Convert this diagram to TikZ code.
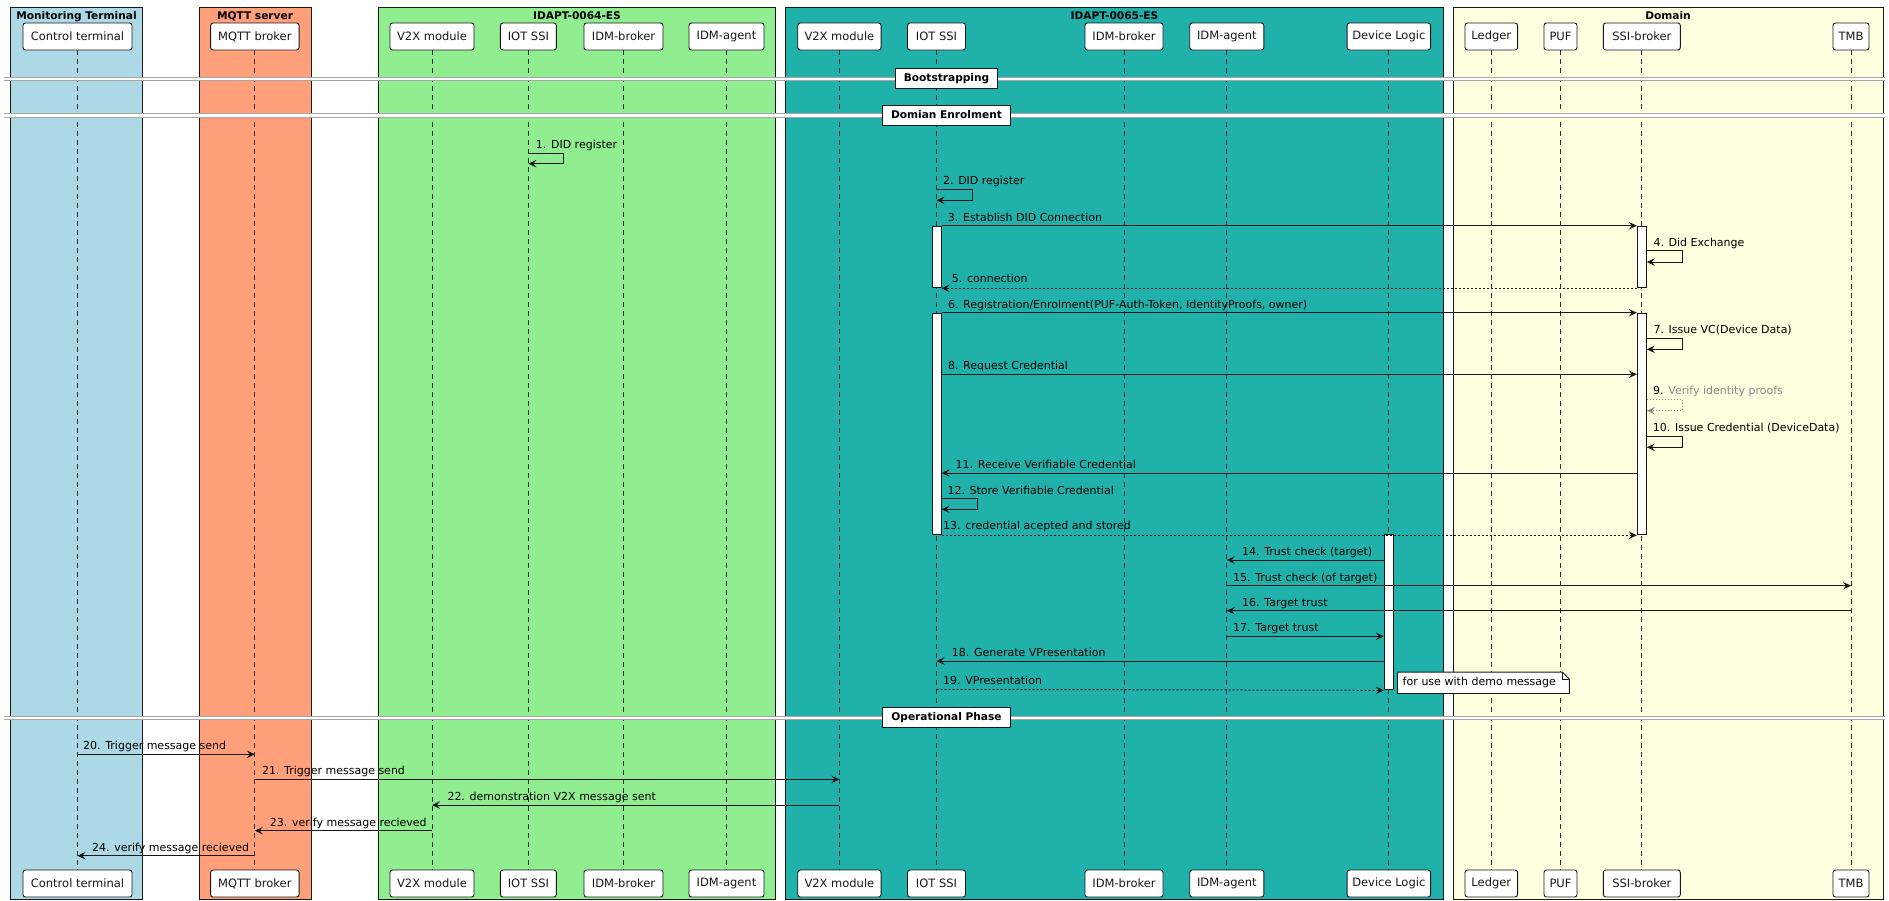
\documentclass[tikz,border=0pt]{standalone}
\usepackage{fontspec}
\setmainfont{DejaVu Sans}
\usetikzlibrary{arrows.meta}

\definecolor{mtblue}{HTML}{ADD8E6}
\definecolor{mqsalmon}{HTML}{FFA07A}
\definecolor{esgreen}{HTML}{90EE90}
\definecolor{esteal}{HTML}{20B2AA}
\definecolor{domyellow}{HTML}{FFFFE0}
\definecolor{ink}{HTML}{181818}
\definecolor{lifegray}{HTML}{2E2E2E}
\definecolor{divgray}{HTML}{A6A6A6}
\definecolor{fadedgray}{HTML}{8C8C8C}

\newcommand{\msgfont}{\fontsize{11pt}{13pt}\selectfont}
\newcommand{\partfont}{\fontsize{11.5pt}{13pt}\selectfont}
\newcommand{\titlefont}{\fontsize{10.6pt}{12pt}\selectfont\bfseries}

\tikzset{
  grpbox/.style={draw=ink, line width=1pt},
  grptitle/.style={anchor=base, font=\titlefont, text=black, inner sep=0},
  part/.style={draw=ink, fill=white, line width=0.9pt, rounded corners=2.5pt,
    minimum height=27pt, inner sep=0, font=\partfont, text=ink},
  life/.style={draw=lifegray, line width=0.9pt, dash pattern=on 5pt off 4pt},
  msg/.style={draw=ink, line width=1pt, -{Stealth[length=8pt,width=7.5pt,inset=3pt]}},
  retmsg/.style={msg, dash pattern=on 2pt off 2pt},
  faded/.style={draw=fadedgray, line width=1pt, dash pattern=on 1.5pt off 1.5pt,
    -{Stealth[length=8pt,width=7.5pt,inset=3pt]}},
  act/.style={draw=ink, fill=white, line width=1pt, minimum width=9pt, inner sep=0, anchor=north},
  lbl/.style={anchor=base west, font=\msgfont, text=black, inner sep=0},
  divline/.style={draw=divgray, line width=1pt},
  divlbl/.style={draw=ink, fill=white, line width=1pt, font=\titlefont,
    minimum height=20pt, inner xsep=8.5pt, inner ysep=0},
  notebox/.style={anchor=west, font=\msgfont, text width=161.5pt, align=left,
    inner xsep=5pt, minimum height=21pt, inner ysep=0},
}

\begin{document}
\begin{tikzpicture}[x=1pt,y=-1pt]
\useasboundingbox (0,0) rectangle (1889,900);
\fill[white] (0,0) rectangle (1889,900);

% ---- grouping boxes ----
\fill[mtblue]    (10.2,7.3) rectangle (142.9,899.5);
\draw[grpbox]    (10.2,7.3) rectangle (142.9,899.5);
\fill[mqsalmon]  (199,7.3) rectangle (311,899.5);
\draw[grpbox]    (199,7.3) rectangle (311,899.5);
\fill[esgreen]   (378.6,7.3) rectangle (775.6,899.5);
\draw[grpbox]    (378.6,7.3) rectangle (775.6,899.5);
\fill[esteal]    (785.7,7.3) rectangle (1443.4,899.5);
\draw[grpbox]    (785.7,7.3) rectangle (1443.4,899.5);
\fill[domyellow] (1453.3,7.3) rectangle (1883,899.5);
\draw[grpbox]    (1453.3,7.3) rectangle (1883,899.5);

\node[grptitle] (gMT)  at (76.5,19)   {Monitoring Terminal};
\node[grptitle] (gMQ)  at (255,19)    {MQTT server};
\node[grptitle] (gE64) at (577,19)    {IDAPT-0064-ES};
\node[grptitle] (gE65) at (1114.5,19) {IDAPT-0065-ES};
\node[grptitle] (gDom) at (1668,19)   {Domain};

% ---- participants (head and foot) ----
\foreach \n/\x/\w/\t in {
  CT/77.5/109/Control terminal,
  MQ/254.8/88.5/MQTT broker,
  VA/432/84/V2X module,
  SA/528.4/56/IOT SSI,
  BA/623.5/79/IDM-broker,
  AA/726.5/75/IDM-agent,
  VB/839.4/83.3/V2X module,
  SB/936.5/58/IOT SSI,
  BB/1124/78/IDM-broker,
  AB/1226.8/74.2/IDM-agent,
  DL/1388.8/83.5/Device Logic,
  LE/1491.3/52.6/Ledger,
  PU/1560.5/33/PUF,
  SK/1641.8/77/SSI-broker,
  TM/1851/36/TMB}{
  \node[part, minimum width=\w pt] (\n t) at (\x,36.5) {\t};
  \node[part, minimum width=\w pt] (\n b) at (\x,883.5) {\t};
}
\foreach \n in {CT,MQ,VA,SA,BA,AA,VB,SB,BB,AB,DL,LE,PU,SK,TM}{
  \draw[life] (\n t.south) -- (\n b.north);
}

% ---- dividers ----
\foreach \y/\t/\n in {79/Bootstrapping/dvA, 115.5/Domian Enrolment/dvB, 718.3/Operational Phase/dvC}{
  \fill[white] (4,\y-1.6) rectangle (1885,\y+1.6);
  \draw[divline] (4,\y-1.6) -- (1885,\y-1.6);
  \draw[divline] (4,\y+1.6) -- (1885,\y+1.6);
  \node[divlbl] (\n) at (946.5,\y-0.5) {\t};
}

% ---- activation bars ----
\node[act, minimum height=61.6pt]  (aSB1) at (936.5,225.7) {};
\node[act, minimum height=61.6pt]  (aSK1) at (1641.8,225.7) {};
\node[act, minimum height=221.6pt] (aSB2) at (936.5,312.7) {};
\node[act, minimum height=221.6pt] (aSK2) at (1641.8,312.7) {};
\node[act, minimum height=155pt]   (aDL)  at (1388.8,534.3) {};

% ---- domain enrolment ----
\draw[msg] (SAt |- 0,153) -- ++(35.5,0) -- ++(0,10.7) -- ++(-35.5,0);
\node[lbl] (m1) at (535.7,148.4) {1. DID register};

\draw[msg] (SBt |- 0,189.3) -- ++(35.5,0) -- ++(0,11) -- ++(-35.5,0);
\node[lbl] (m2) at (942.9,184.7) {2. DID register};

\draw[msg] (aSB1.north east) -- (aSK1.north west);
\node[lbl] (m3) at (947.7,221.1) {3. Establish DID Connection};

\draw[msg] (aSK1.east |- 0,250.7) -- ++(35.5,0) -- ++(0,11.3) -- ++(-35.5,0);
\node[lbl] (m4) at (1653.3,246.1) {4. Did Exchange};

\draw[retmsg] (aSK1.south west) -- (aSB1.south east);
\node[lbl] (m5) at (951.7,282.7) {5. connection};

\draw[msg] (aSB2.north east) -- (aSK2.north west);
\node[lbl] (m6) at (947.8,308.1) {6. Registration/Enrolment(PUF-Auth-Token, IdentityProofs, owner)};

\draw[msg] (aSK2.east |- 0,338) -- ++(35.5,0) -- ++(0,11.3) -- ++(-35.5,0);
\node[lbl] (m7) at (1653.3,333.4) {7. Issue VC(Device Data)};

\draw[msg] (aSB2.east |- 0,374.3) -- (aSK2.west |- 0,374.3);
\node[lbl] (m8) at (947.8,369.7) {8. Request Credential};

\draw[faded] (aSK2.east |- 0,399.3) -- ++(35.5,0) -- ++(0,11.4) -- ++(-35.5,0);
\node[lbl] (m9) at (1653,394.7) {9. \textcolor{fadedgray}{Verify identity proofs}};

\draw[msg] (aSK2.east |- 0,436.3) -- ++(35.5,0) -- ++(0,11) -- ++(-35.5,0);
\node[lbl] (m10) at (1652.7,431.7) {10. Issue Credential (DeviceData)};

\draw[msg] (aSK2.west |- 0,473) -- (aSB2.east |- 0,473);
\node[lbl] (m11) at (955.5,468.4) {11. Receive Verifiable Credential};

\draw[msg] (aSB2.east |- 0,498.7) -- ++(35.5,0) -- ++(0,10.6) -- ++(-35.5,0);
\node[lbl] (m12) at (947.3,494.1) {12. Store Verifiable Credential};

\draw[retmsg] (aSB2.south east) -- (aSK2.south west);
\node[lbl] (m13) at (942.9,529.7) {13. credential acepted and stored};

\draw[msg] (aDL.west |- 0,560) -- (ABt |- 0,560);
\node[lbl] (m14) at (1242,555.4) {14. Trust check (target)};

\draw[msg] (ABt |- 0,585.7) -- (TMt |- 0,585.7);
\node[lbl] (m15) at (1233,581.1) {15. Trust check (of target)};

\draw[msg] (TMt |- 0,610.7) -- (ABt |- 0,610.7);
\node[lbl] (m16) at (1242,606.1) {16. Target trust};

\draw[msg] (ABt |- 0,636.3) -- (aDL.west |- 0,636.3);
\node[lbl] (m17) at (1233,631.7) {17. Target trust};

\draw[msg] (aDL.west |- 0,661) -- (SBt |- 0,661);
\node[lbl] (m18) at (951.7,656.4) {18. Generate VPresentation};

\draw[retmsg] (SBt |- 0,689.3) -- (aDL.south west);
\node[lbl] (m19) at (943,684.7) {19. VPresentation};

% ---- note beside the device logic bar ----
\node[notebox] (note) at (1397.5,682.8) {\phantom{for use with demo message}};
\draw[draw=ink, fill=white, line width=0.9pt]
  (note.north west) -- ([xshift=-7pt]note.north east) -- ([yshift=-7pt]note.north east)
  -- (note.south east) -- (note.south west) -- cycle;
\draw[draw=ink, line width=0.9pt]
  ([xshift=-7pt]note.north east) -- ([xshift=-7pt,yshift=-7pt]note.north east)
  -- ([yshift=-7pt]note.north east);
\node[notebox] (notetext) at (1397.5,682.8) {for use with demo message};

% ---- operational phase ----
\draw[msg] (CTt |- 0,754.3) -- (MQt |- 0,754.3);
\node[lbl] (m20) at (83,749.7) {20. Trigger message send};

\draw[msg] (MQt |- 0,779.3) -- (VBt |- 0,779.3);
\node[lbl] (m21) at (261.8,774.7) {21. Trigger message send};

\draw[msg] (VBt |- 0,805) -- (VAt |- 0,805);
\node[lbl] (m22) at (447.3,800.4) {22. demonstration V2X message sent};

\draw[msg] (VAt |- 0,830.7) -- (MQt |- 0,830.7);
\node[lbl] (m23) at (269.7,826.1) {23. verify message recieved};

\draw[msg] (MQt |- 0,855.7) -- (CTt |- 0,855.7);
\node[lbl] (m24) at (92,851.1) {24. verify message recieved};
\end{tikzpicture}
\end{document}
